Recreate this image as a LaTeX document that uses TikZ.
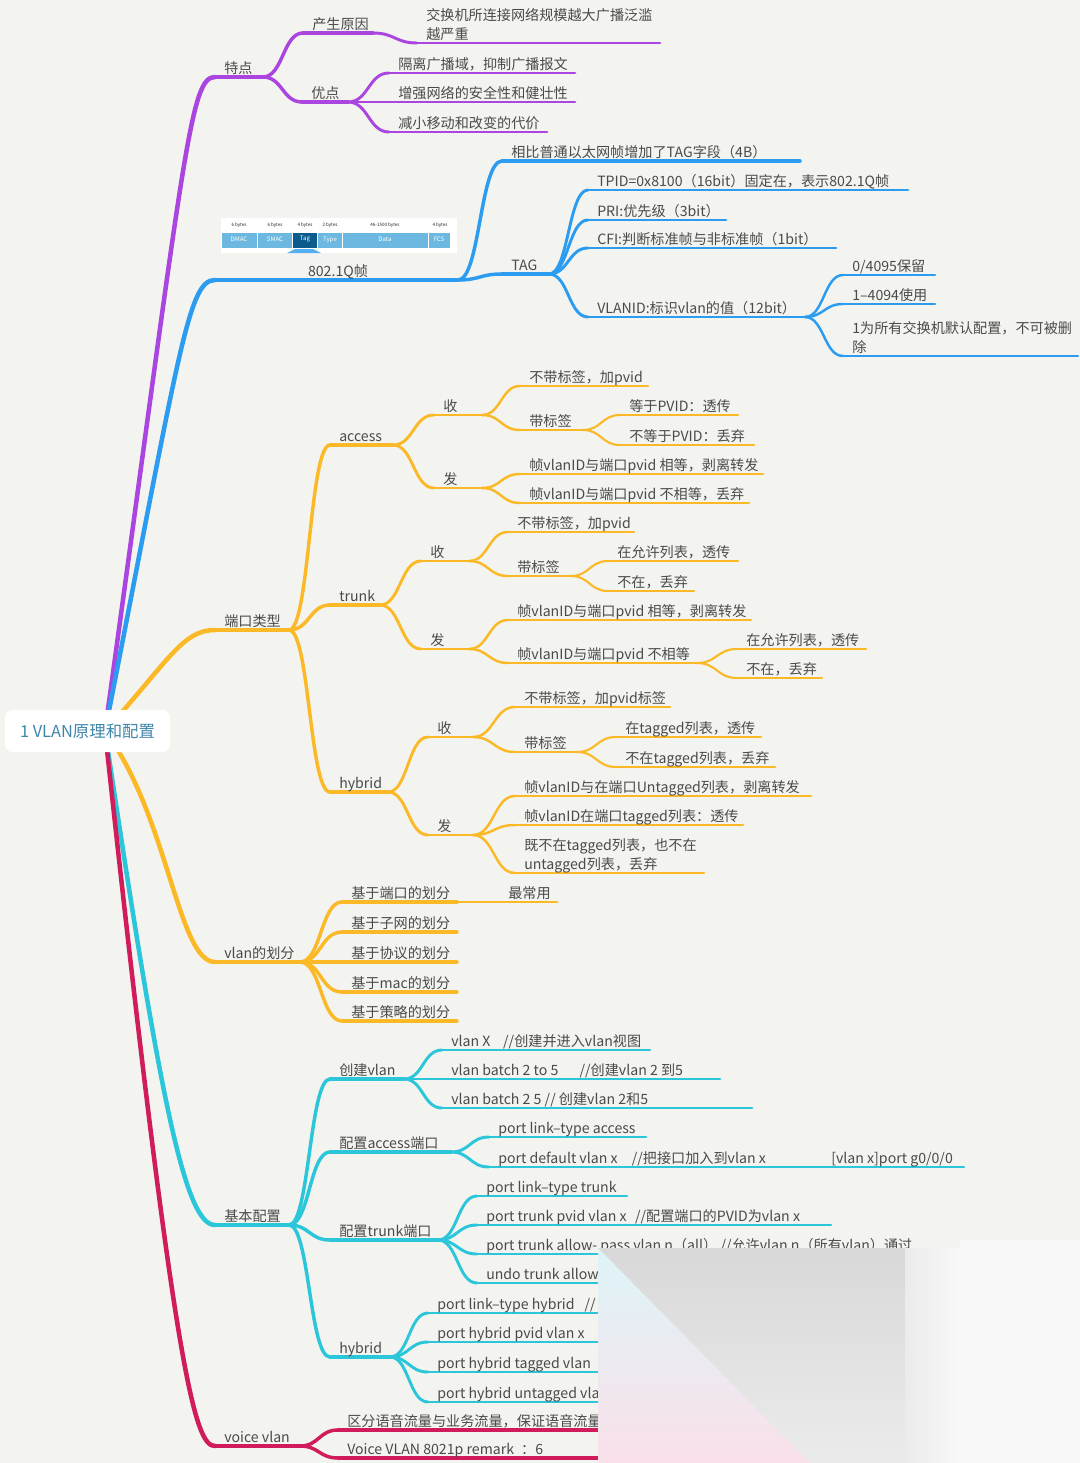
\documentclass[tikz,border=0pt]{standalone}
\usepackage{fontspec}
\setmainfont{Noto Sans CJK SC}
\usetikzlibrary{calc}
\definecolor{bgc}{HTML}{F3F4F0}
\definecolor{colP}{HTML}{AA45E0}
\definecolor{colB}{HTML}{2B9CF0}
\definecolor{colY}{HTML}{FBB928}
\definecolor{colC}{HTML}{2CC6DA}
\definecolor{colR}{HTML}{D11C5B}
\definecolor{txtc}{HTML}{4A4A4A}
\definecolor{rootc}{HTML}{3F86AA}
\definecolor{cellc}{HTML}{6CB8E0}
\definecolor{tagc}{HTML}{0C5B8D}
\definecolor{smgA}{HTML}{D8D8D8}
\definecolor{smgB}{HTML}{EBEBEB}
\definecolor{smcA}{HTML}{DDF4F7}
\definecolor{smpB}{HTML}{FAE0EA}
\definecolor{smw}{HTML}{F8F8F8}
\tikzset{
  cp/.style={draw=colP}, cb/.style={draw=colB}, cy/.style={draw=colY},
  cc/.style={draw=colC}, cr/.style={draw=colR},
  d1/.style={line width=3.4pt,line cap=round},
  d2/.style={line width=2.6pt,line cap=round},
  d3/.style={line width=2.2pt,line cap=round},
  d4/.style={line width=1.85pt,line cap=round},
  d5/.style={line width=1.6pt,line cap=round},
  txt/.style={inner sep=0pt, text=txtc, align=left,
    font=\fontsize{10.6}{14.6}\selectfont, execute at end node=\strut},
  rootbox/.style={fill=white, rounded corners=6pt, minimum width=123.75pt,
    minimum height=31.5pt, inner sep=0pt, text=rootc,
    font=\fontsize{12.3}{14}\selectfont},
  hdr/.style={inner sep=0pt, font=\fontsize{3.4}{4}\selectfont, text=black!85},
  cell/.style={inner sep=0pt, font=\fontsize{4.6}{5}\selectfont, text=white},
}
\newcommand{\mm}[6]{%
  \coordinate (#1-s) at (#3,#5);
  \coordinate (#1-e) at (#4,#5);
  \draw[#2] (#1-s) -- (#1-e);
  \node[txt,anchor=south west] (#1) at ($(#1-s)+(9,3)$) {#6};}
\newcommand{\cn}[3]{\draw[#1] let \p1=(#2), \p2=(#3) in (\p1) .. controls ({0.5*\x1+0.5*\x2},\y1) and ({0.5*\x1+0.5*\x2},\y2) .. (\p2);}
\begin{document}
\begin{tikzpicture}[x=0.75pt,y=-0.75pt]
\useasboundingbox (0,0) rectangle (1080,1463);
\fill[bgc] (0,0) rectangle (1080,1463);

% ---------- purple: 特点 ----------
\mm{tedian}{cp,d1}{215}{263}{77}{特点}
\mm{chansheng}{cp,d2}{303}{373}{33}{产生原因}
\mm{jiaohuan}{cp,d3}{417}{660}{43}{交换机所连接网络规模越大广播泛滥\\越严重}
\mm{youdian}{cp,d2}{302}{348}{102}{优点}
\mm{geli}{cp,d3}{389}{575}{73}{隔离广播域，抑制广播报文}
\mm{zengqiang}{cp,d3}{389}{575}{102}{增强网络的安全性和健壮性}
\mm{jianxiao}{cp,d3}{389}{547}{132}{减小移动和改变的代价}
\cn{cp,d2}{tedian-e}{chansheng-s}
\cn{cp,d2}{tedian-e}{youdian-s}
\cn{cp,d3}{chansheng-e}{jiaohuan-s}
\cn{cp,d3}{youdian-e}{geli-s}
\cn{cp,d3}{youdian-e}{zengqiang-s}
\cn{cp,d3}{youdian-e}{jianxiao-s}

% ---------- blue: 802.1Q帧 ----------
\coordinate (frame-s) at (215,280);
\coordinate (frame-e) at (458,280);
\draw[cb,d1] (frame-s) -- (frame-e);
\node[txt,anchor=south] (frame) at (338,283) {802.1Q帧};
% frame picture
\fill[white] (221,218) rectangle (457,253);
\node[hdr] (h1) at (239,225) {6 bytes};
\node[hdr] (h2) at (275,225) {6 bytes};
\node[hdr] (h3) at (305,225) {4 bytes};
\node[hdr] (h4) at (330,225) {2 bytes};
\node[hdr] (h5) at (385,225) {46-1500 bytes};
\node[hdr] (h6) at (440,225) {4 bytes};
\fill[cellc] (222,233) rectangle (256.5,247.5);
\fill[cellc] (257.5,233) rectangle (292,247.5);
\fill[tagc] (293,233) rectangle (317,247.5);
\fill[cellc] (318,233) rectangle (341.5,247.5);
\fill[cellc] (343,233) rectangle (427.5,247.5);
\fill[cellc] (428.5,233) rectangle (450,247.5);
\node[cell] (c1) at (239,239.5) {DMAC};
\node[cell] (c2) at (275,239.5) {SMAC};
\node[cell] (c3) at (305,239.5) {Tag};
\node[cell] (c4) at (330,239.5) {Type};
\node[cell] (c5) at (385,239.5) {Data};
\node[cell] (c6) at (439,239.5) {FCS};
\fill[colB!80!white] (287,253) -- (321,253) -- (313,249) -- (295,249) -- cycle;

\mm{xiangbi}{cb,d2}{502}{800}{161}{相比普通以太网帧增加了TAG字段（4B）}
\mm{tag}{cb,d2}{502}{549}{274}{TAG}
\mm{tpid}{cb,d3}{588}{908}{190}{TPID=0x8100（16bit）固定在，表示802.1Q帧}
\mm{pri}{cb,d3}{588}{726}{220}{PRI:优先级（3bit）}
\mm{cfi}{cb,d3}{588}{836}{248}{CFI:判断标准帧与非标准帧（1bit）}
\mm{vlanid}{cb,d3}{588}{805}{317}{VLANID:标识vlan的值（12bit）}
\mm{rsv}{cb,d4}{843}{935}{275}{0/4095保留}
\mm{used}{cb,d4}{843}{935}{304}{1–4094使用}
\mm{dft}{cb,d4}{843}{1078}{356}{1为所有交换机默认配置，不可被删\\除}
\cn{cb,d2}{frame-e}{xiangbi-s}
\cn{cb,d2}{frame-e}{tag-s}
\cn{cb,d3}{tag-e}{tpid-s}
\cn{cb,d3}{tag-e}{pri-s}
\cn{cb,d3}{tag-e}{cfi-s}
\cn{cb,d3}{tag-e}{vlanid-s}
\cn{cb,d4}{vlanid-e}{rsv-s}
\cn{cb,d4}{vlanid-e}{used-s}
\cn{cb,d4}{vlanid-e}{dft-s}

% ---------- yellow: 端口类型 ----------
\mm{duankou}{cy,d1}{215}{289}{630}{端口类型}
\mm{access}{cy,d2}{330}{393}{445}{access}
\mm{ashou}{cy,d3}{434}{482}{415}{收}
\mm{afa}{cy,d3}{434}{482}{488}{发}
\mm{asa}{cy,d4}{520}{648}{386}{不带标签，加pvid}
\mm{asb}{cy,d4}{520}{583}{430}{带标签}
\mm{asba}{cy,d5}{620}{738}{415}{等于PVID：透传}
\mm{asbb}{cy,d5}{620}{754}{445}{不等于PVID：丢弃}
\mm{afa1}{cy,d4}{520}{763}{474}{帧vlanID与端口pvid 相等，剥离转发}
\mm{afa2}{cy,d4}{520}{749}{503}{帧vlanID与端口pvid 不相等，丢弃}
\cn{cy,d2}{duankou-e}{access-s}
\cn{cy,d3}{access-e}{ashou-s}
\cn{cy,d3}{access-e}{afa-s}
\cn{cy,d4}{ashou-e}{asa-s}
\cn{cy,d4}{ashou-e}{asb-s}
\cn{cy,d5}{asb-e}{asba-s}
\cn{cy,d5}{asb-e}{asbb-s}
\cn{cy,d4}{afa-e}{afa1-s}
\cn{cy,d4}{afa-e}{afa2-s}

\mm{trunk}{cy,d2}{330}{380}{605}{trunk}
\mm{tshou}{cy,d3}{421}{469}{561}{收}
\mm{tfa}{cy,d3}{421}{469}{649}{发}
\mm{tsa}{cy,d4}{508}{634}{532}{不带标签，加pvid}
\mm{tsb}{cy,d4}{508}{571}{576}{带标签}
\mm{tsba}{cy,d5}{608}{738}{561}{在允许列表，透传}
\mm{tsbb}{cy,d5}{608}{694}{591}{不在，丢弃}
\mm{tfa1}{cy,d4}{508}{751}{620}{帧vlanID与端口pvid 相等，剥离转发}
\mm{tfa2}{cy,d4}{508}{697}{663}{帧vlanID与端口pvid 不相等}
\mm{tfa2a}{cy,d5}{737}{866}{649}{在允许列表，透传}
\mm{tfa2b}{cy,d5}{737}{822}{678}{不在，丢弃}
\cn{cy,d2}{duankou-e}{trunk-s}
\cn{cy,d3}{trunk-e}{tshou-s}
\cn{cy,d3}{trunk-e}{tfa-s}
\cn{cy,d4}{tshou-e}{tsa-s}
\cn{cy,d4}{tshou-e}{tsb-s}
\cn{cy,d5}{tsb-e}{tsba-s}
\cn{cy,d5}{tsb-e}{tsbb-s}
\cn{cy,d4}{tfa-e}{tfa1-s}
\cn{cy,d4}{tfa-e}{tfa2-s}
\cn{cy,d5}{tfa2-e}{tfa2a-s}
\cn{cy,d5}{tfa2-e}{tfa2b-s}

\mm{yhybrid}{cy,d2}{330}{388}{792}{hybrid}
\mm{hshou}{cy,d3}{428}{473}{737}{收}
\mm{hfa}{cy,d3}{428}{473}{835}{发}
\mm{hsa}{cy,d4}{515}{670}{707}{不带标签，加pvid标签}
\mm{hsb}{cy,d4}{515}{577}{752}{带标签}
\mm{hsba}{cy,d5}{616}{761}{737}{在tagged列表，透传}
\mm{hsbb}{cy,d5}{616}{775}{767}{不在tagged列表，丢弃}
\mm{hfa1}{cy,d4}{515}{811}{796}{帧vlanID与在端口Untagged列表，剥离转发}
\mm{hfa2}{cy,d4}{515}{743}{825}{帧vlanID在端口tagged列表：透传}
\mm{hfa3}{cy,d4}{515}{704}{873}{既不在tagged列表，也不在\\untagged列表，丢弃}
\cn{cy,d2}{duankou-e}{yhybrid-s}
\cn{cy,d3}{yhybrid-e}{hshou-s}
\cn{cy,d3}{yhybrid-e}{hfa-s}
\cn{cy,d4}{hshou-e}{hsa-s}
\cn{cy,d4}{hshou-e}{hsb-s}
\cn{cy,d5}{hsb-e}{hsba-s}
\cn{cy,d5}{hsb-e}{hsbb-s}
\cn{cy,d4}{hfa-e}{hfa1-s}
\cn{cy,d4}{hfa-e}{hfa2-s}
\cn{cy,d4}{hfa-e}{hfa3-s}

% ---------- yellow: vlan的划分 ----------
\mm{huafen}{cy,d1}{215}{300}{962}{vlan的划分}
\mm{hfone}{cy,d2}{342}{457}{902}{基于端口的划分}
\mm{hfonec}{cy,d3}{499}{557}{902}{最常用}
\mm{hftwo}{cy,d2}{342}{457}{932}{基于子网的划分}
\mm{hfthree}{cy,d2}{342}{457}{962}{基于协议的划分}
\mm{hffour}{cy,d2}{342}{457}{992}{基于mac的划分}
\mm{hffive}{cy,d2}{342}{457}{1021}{基于策略的划分}
\cn{cy,d2}{huafen-e}{hfone-s}
\cn{cy,d2}{huafen-e}{hftwo-s}
\cn{cy,d2}{huafen-e}{hfthree-s}
\cn{cy,d2}{huafen-e}{hffour-s}
\cn{cy,d2}{huafen-e}{hffive-s}
\cn{cy,d3}{hfone-e}{hfonec-s}

% ---------- cyan: 基本配置 ----------
\mm{jiben}{cc,d1}{215}{289}{1225}{基本配置}
\mm{cj}{cc,d2}{330}{404}{1079}{创建vlan}
\mm{cja}{cc,d3}{442}{650}{1050}{vlan X\hspace{0.9em}//创建并进入vlan视图}
\mm{cjb}{cc,d3}{442}{720}{1079}{vlan batch 2 to 5\hspace{1.5em}//创建vlan 2 到5}
\mm{cjc}{cc,d3}{442}{752}{1108}{vlan batch 2 5 // 创建vlan 2和5}
\mm{ca}{cc,d2}{330}{451}{1152}{配置access端口}
\mm{caa}{cc,d3}{489}{646}{1137}{port link–type access}
\mm{cab}{cc,d3}{489}{780}{1167}{port default vlan x\hspace{1em}//把接口加入到vlan x}
\mm{cabc}{cc,d4}{822}{964}{1167}{[vlan x]port g0/0/0}
\mm{ct}{cc,d2}{330}{438}{1240}{配置trunk端口}
\mm{cta}{cc,d3}{477}{627}{1196}{port link–type trunk}
\mm{ctb}{cc,d3}{477}{831}{1225}{port trunk pvid vlan x\hspace{0.6em}//配置端口的PVID为vlan x}
\mm{ctc}{cc,d3}{477}{615}{1254}{port trunk allow- pass vlan n（all） //允许vlan n（所有vlan）通过}
\mm{ctd}{cc,d3}{477}{615}{1283}{undo trunk allow-pass vlan}
\mm{ch}{cc,d2}{330}{390}{1357}{hybrid}
\mm{cha}{cc,d3}{428}{615}{1313}{port link–type hybrid\hspace{0.7em}//}
\mm{chb}{cc,d3}{428}{615}{1342}{port hybrid pvid vlan x}
\mm{chc}{cc,d3}{428}{615}{1372}{port hybrid tagged vlan}
\mm{chd}{cc,d3}{428}{615}{1402}{port hybrid untagged vlan}
\cn{cc,d2}{jiben-e}{cj-s}
\cn{cc,d2}{jiben-e}{ca-s}
\cn{cc,d2}{jiben-e}{ct-s}
\cn{cc,d2}{jiben-e}{ch-s}
\cn{cc,d3}{cj-e}{cja-s}
\cn{cc,d3}{cj-e}{cjb-s}
\cn{cc,d3}{cj-e}{cjc-s}
\cn{cc,d3}{ca-e}{caa-s}
\cn{cc,d3}{ca-e}{cab-s}
\cn{cc,d4}{cab-e}{cabc-s}
\cn{cc,d3}{ct-e}{cta-s}
\cn{cc,d3}{ct-e}{ctb-s}
\cn{cc,d3}{ct-e}{ctc-s}
\cn{cc,d3}{ct-e}{ctd-s}
\cn{cc,d3}{ch-e}{cha-s}
\cn{cc,d3}{ch-e}{chb-s}
\cn{cc,d3}{ch-e}{chc-s}
\cn{cc,d3}{ch-e}{chd-s}

% ---------- crimson: voice vlan ----------
\mm{voice}{cr,d1}{215}{300}{1446}{voice vlan}
\mm{va}{cr,d2}{338}{615}{1430}{区分语音流量与业务流量，保证语音流量}
\mm{vb}{cr,d2}{338}{615}{1458}{Voice VLAN 8021p remark\hspace{0.5em}：6}
\cn{cr,d2}{voice-e}{va-s}
\cn{cr,d2}{voice-e}{vb-s}

% ---------- root and main branches ----------
\node[rootbox] (root) at (87.5,731) {};
\coordinate (rootc) at (105,731);
\draw[cp,d1] (rootc) .. controls (185,150) and (190,77) .. (tedian-s);
\draw[cb,d1] (rootc) .. controls (180,350) and (188,280) .. (frame-s);
\draw[cy,d1] (rootc) .. controls (168,662) and (182,630) .. (duankou-s);
\draw[cy,d1] (rootc) .. controls (168,815) and (178,962) .. (huafen-s);
\draw[cc,d1] (rootc) .. controls (160,1100) and (185,1225) .. (jiben-s);
\draw[cr,d1] (rootc) .. controls (175,1380) and (195,1446) .. (voice-s);
\node[rootbox] (rootlabel) at (87.5,731) {1 VLAN原理和配置};

% ---------- smeared corner ----------
\shade[top color=smgA, bottom color=smgB] (598,1248) rectangle (913,1463);
\shade[top color=smcA, bottom color=smpB] (598,1248) -- (810,1463) -- (598,1463) -- cycle;
\shade[left color=smgB, right color=smw] (905,1248) rectangle (960,1463);
\fill[smw] (960,1240) rectangle (1080,1463);
\end{tikzpicture}
\end{document}
